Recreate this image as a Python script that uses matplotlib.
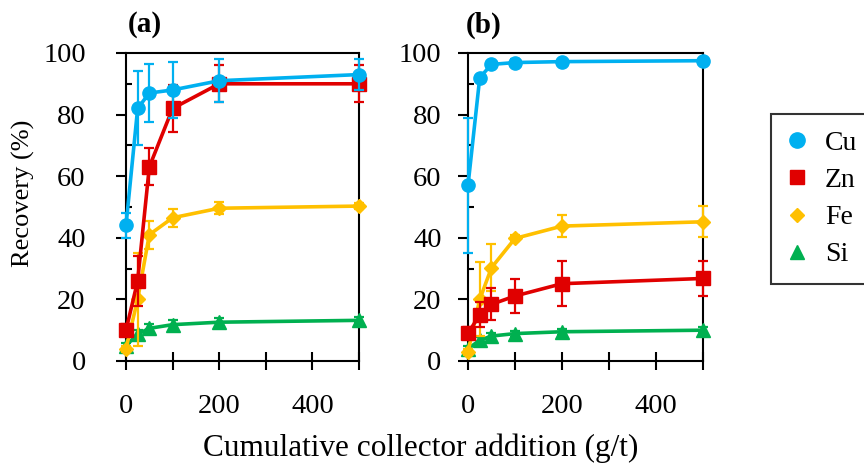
import matplotlib
matplotlib.use("Agg")
import matplotlib.pyplot as plt
from matplotlib.lines import Line2D
from matplotlib.ticker import MultipleLocator

plt.rcParams["font.family"] = ["Liberation Serif", "DejaVu Serif"]

# collector dosage (g/t)
dose = [0, 25, 50, 100, 200, 500]

# panel (a)
cu_a = [44, 82, 87, 88, 91, 93]
cu_a_err = [4, 12, 9.5, 9, 7, 5]
zn_a = [10, 26, 63, 82, 90, 90]
zn_a_err = [2, 8, 6, 7.5, 6, 6]
fe_a = [4, 20, 41, 46.5, 49.6, 50.3]
fe_a_err = [1, 15, 4.5, 3, 2, 1]
si_a = [5, 8.7, 10.6, 11.8, 12.6, 13.2]
si_a_err = [1, 1.5, 1.5, 1.5, 1.5, 1]

# panel (b)
cu_b = [57, 92, 96.3, 96.9, 97.2, 97.5]
cu_b_err = [22, 1, 1, 1, 1, 1]
zn_b = [9, 15, 18.4, 21.1, 25.1, 26.8]
zn_b_err = [2, 4, 5.2, 5.5, 7.3, 5.8]
fe_b = [3, 20, 30.3, 39.8, 43.8, 45.2]
fe_b_err = [1, 12, 7.6, 1, 3.6, 5]
si_b = [4, 6.7, 8.1, 8.9, 9.5, 10]
si_b_err = [1, 1, 1, 1, 1, 1]

labels = ["Cu", "Zn", "Fe", "Si"]
colors = ["#00B0F0", "#E00000", "#FFC000", "#00B050"]
markers = ["o", "s", "D", "^"]
msizes = [9.5, 10.5, 7, 9.5]

panels = [
    ("(a)", [cu_a, zn_a, fe_a, si_a], [cu_a_err, zn_a_err, fe_a_err, si_a_err]),
    ("(b)", [cu_b, zn_b, fe_b, si_b], [cu_b_err, zn_b_err, fe_b_err, si_b_err]),
]

fig = plt.figure(figsize=(8.64, 4.63), dpi=100)
ax_a = fig.add_axes([126 / 864, 1 - 361 / 463, 233 / 864, 308 / 463])
ax_b = fig.add_axes([468 / 864, 1 - 361 / 463, 235 / 864, 308 / 463])

for ax, (tag, series, errs), ypad in zip([ax_a, ax_b], panels, [22, 12]):
    # draw Si first so Cu ends up on top
    for i in [3, 2, 1, 0]:
        ax.errorbar(dose, series[i], yerr=errs[i], color=colors[i],
                    marker=markers[i], markersize=msizes[i], lw=2.6,
                    elinewidth=1.6, capsize=3.6, capthick=1.6,
                    clip_on=False, zorder=3 + (3 - i))
    ax.set_xlim(0, 500)
    ax.set_ylim(0, 100)
    ax.xaxis.set_major_locator(MultipleLocator(200))
    ax.xaxis.set_minor_locator(MultipleLocator(100))
    ax.yaxis.set_major_locator(MultipleLocator(20))
    ax.yaxis.set_minor_locator(MultipleLocator(10))
    ax.tick_params(axis="x", which="both", direction="inout", length=13,
                   width=1.5, labelsize=20.5, pad=17)
    ax.tick_params(axis="y", which="major", direction="out", length=7,
                   width=1.5, labelsize=20.5, pad=ypad)
    ax.tick_params(axis="y", which="minor", direction="in", length=4.5,
                   width=1.5)
    for sp in ax.spines.values():
        sp.set_linewidth(1.5)

fig.text(128 / 864, 1 - 25 / 463, "(a)", fontsize=21, fontweight="bold",
         ha="left", va="center")
fig.text(466 / 864, 1 - 25 / 463, "(b)", fontsize=21, fontweight="bold",
         ha="left", va="center")
fig.text(23 / 864, 1 - 193 / 463, "Recovery (%)", fontsize=19,
         rotation=90, ha="center", va="center")
fig.text(421 / 864, 1 - 448 / 463, "Cumulative collector addition (g/t)",
         fontsize=22.5, ha="center", va="center")

handles = [Line2D([], [], ls="none", marker=m, color=c, markersize=s)
           for m, c, s in zip(markers, colors, [11, 10, 7.2, 10])]
leg = fig.legend(handles, labels, loc="upper left",
                 bbox_to_anchor=(771 / 864, 1 - 114 / 463),
                 fontsize=20, frameon=True, fancybox=False,
                 edgecolor="black", borderpad=0.6, labelspacing=0.42,
                 handlelength=0.67, handletextpad=0.67, borderaxespad=0)
leg.get_frame().set_linewidth(1.5)

fig.savefig("out.png", dpi=100)
